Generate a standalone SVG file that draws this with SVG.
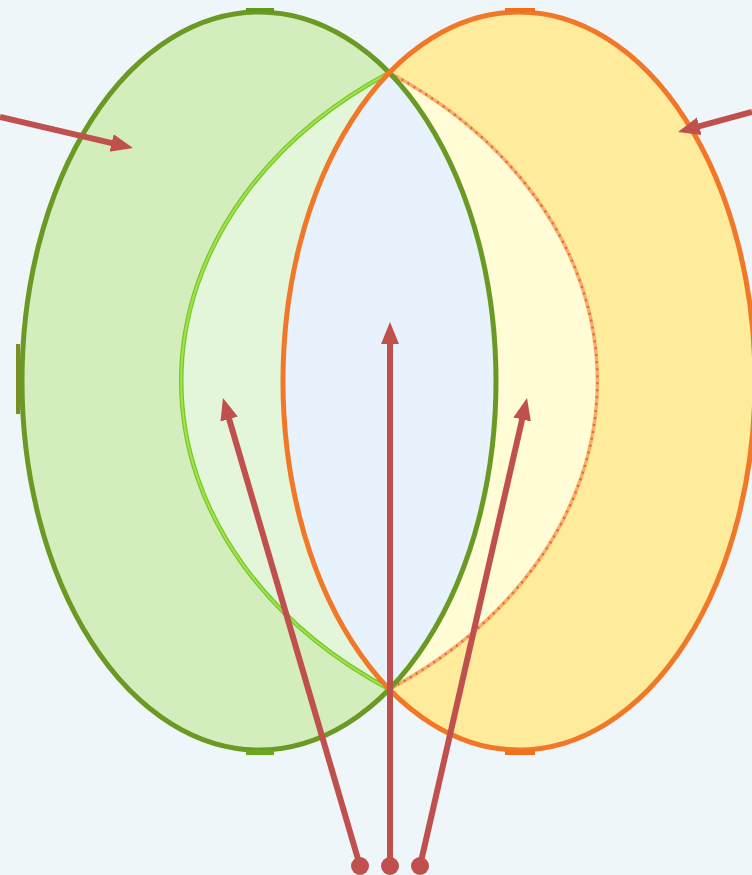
<svg xmlns="http://www.w3.org/2000/svg" width="752" height="875" viewBox="0 0 752 875">
<style>
.gstroke{fill:none;stroke:#6a9a24;stroke-width:5}
.ostroke{fill:none;stroke:#f07828;stroke-width:5}
.arrow{stroke:#c0504d;stroke-width:6;fill:none}
.dot{fill:#c0504d}
</style>
<defs>
<marker id="ah" markerUnits="userSpaceOnUse" markerWidth="24" markerHeight="20" refX="8" refY="10" orient="auto">
<path d="M0,1 L22,10 L0,19 z" fill="#c0504d"/>
</marker>
</defs>
<rect width="752" height="875" fill="#eff6f9"/>
<g id="green-ellipse">
<ellipse cx="259" cy="381" rx="237" ry="369" fill="#d4edbc"/>
</g>
<g id="orange-ellipse">
<ellipse cx="519" cy="381" rx="236" ry="369" fill="#feeb9c"/>
</g>
<g id="green-lens">
<path d="M389.3,72.7 A476 373 0 0 0 389.3,689.3 A236 369 0 0 1 389.3,72.7 Z" fill="#e3f6d9"/>
</g>
<g id="yellow-lens">
<path d="M389.3,72.7 A476 373 0 0 1 389.3,689.3 A237 369 0 0 0 389.3,72.7 Z" fill="#fffcd6"/>
</g>
<g id="blue-lens">
<path d="M389.3,72.7 A237 369 0 0 1 389.3,689.3 A236 369 0 0 1 389.3,72.7 Z" fill="#e8f2fc"/>
</g>
<g id="outlines">
<path d="M389.3,72.7 A476 373 0 0 0 389.3,689.3" fill="none" stroke="#7cc52c" stroke-width="4.5"/>
<path d="M389.3,72.7 A476 373 0 0 0 389.3,689.3" fill="none" stroke="#9be64a" stroke-width="2"/>
<path d="M389.3,72.7 A476 373 0 0 1 389.3,689.3" fill="none" stroke="#f7b066" stroke-width="3.5"/>
<path d="M389.3,72.7 A476 373 0 0 1 389.3,689.3" fill="none" stroke="#e8684e" stroke-width="2.5" stroke-dasharray="2 5"/>
<ellipse class="gstroke" cx="259" cy="381" rx="237" ry="369"/>
<rect x="246" y="8" width="28" height="4" fill="#5f9a1c"/>
<rect x="246" y="750" width="28" height="5" fill="#6aa81f"/>
<rect x="16" y="344" width="4" height="70" fill="#7a8e24"/>
<ellipse class="ostroke" cx="519" cy="381" rx="236" ry="369"/>
<rect x="505" y="8" width="30" height="4" fill="#f07020"/>
<rect x="505" y="750" width="30" height="5" fill="#f07020"/>
</g>
<g id="connectors">
<line class="arrow" x1="0" y1="117" x2="119.4" y2="144.8" marker-end="url(#ah)"/>
<line class="arrow" x1="752" y1="112" x2="691.5" y2="128.3" marker-end="url(#ah)"/>
<line class="arrow" x1="360" y1="866" x2="226.9" y2="411.4" marker-end="url(#ah)"/>
<line class="arrow" x1="390" y1="866" x2="390" y2="336" marker-end="url(#ah)"/>
<line class="arrow" x1="420" y1="866" x2="523.9" y2="411.7" marker-end="url(#ah)"/>
<circle class="dot" cx="360" cy="866" r="9"/>
<circle class="dot" cx="390" cy="866" r="9"/>
<circle class="dot" cx="420" cy="866" r="9"/>
</g>
</svg>
